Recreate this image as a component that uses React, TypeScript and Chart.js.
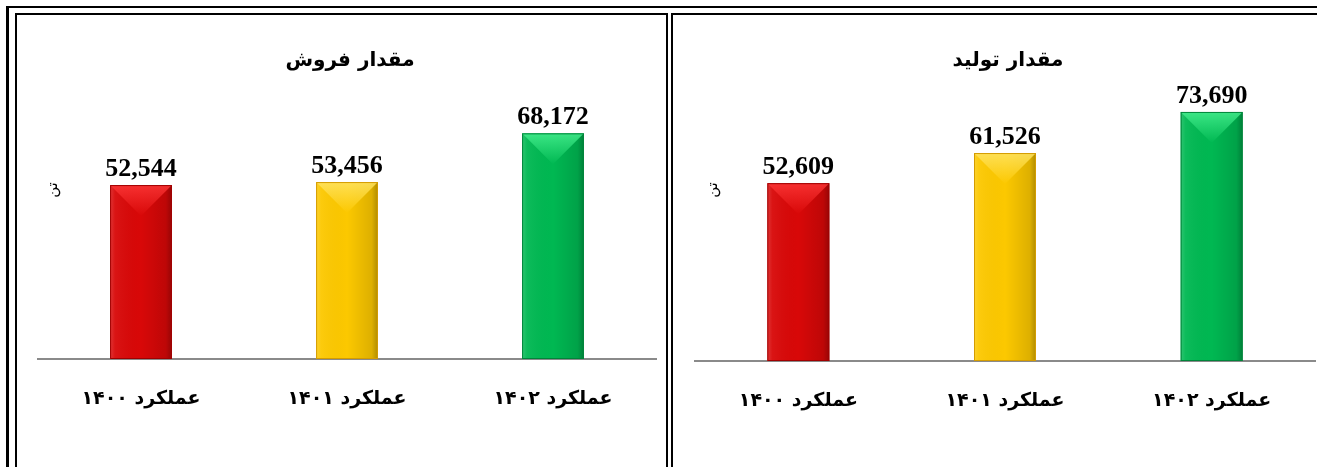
import React, { useEffect, useRef } from "react";
import { Chart, registerables } from "chart.js";

Chart.register(...registerables);

const categories = ["عملکرد ۱۴۰۰", "عملکرد ۱۴۰۱", "عملکرد ۱۴۰۲"];
const salesValues = [52544, 53456, 68172];
const productionValues = [52609, 61526, 73690];
const salesTitle = "مقدار فروش";
const productionTitle = "مقدار تولید";
const unitLabel = "تن";
const yMax = 100000;

const palettes = [
  { light: "#ff3a3a", mid: "#d80808", dark: "#a00000" },
  { light: "#ffe66a", mid: "#fcc800", dark: "#d49c00" },
  { light: "#4af292", mid: "#00b852", dark: "#00843a" },
];

const PERSIAN = "'DejaVu Sans', 'Noto Sans', sans-serif";

const bevelPlugin = {
  id: "bevelLabels",
  afterDatasetsDraw(chart: any) {
    const ctx = chart.ctx as CanvasRenderingContext2D;
    const meta = chart.getDatasetMeta(0);
    const data = chart.data.datasets[0].data as number[];
    meta.data.forEach((bar: any, i: number) => {
      const p = palettes[i % palettes.length];
      const { x, y, base, width } = bar.getProps(["x", "y", "base", "width"], true);
      const l = x - width / 2;
      const r = x + width / 2;
      const h = base - y;
      ctx.save();
      const g = ctx.createLinearGradient(l, 0, r, 0);
      g.addColorStop(0, "rgba(255,255,255,0.18)");
      g.addColorStop(0.08, "rgba(255,255,255,0.05)");
      g.addColorStop(0.5, "rgba(0,0,0,0)");
      g.addColorStop(0.9, "rgba(0,0,0,0.12)");
      g.addColorStop(1, "rgba(0,0,0,0.3)");
      ctx.fillStyle = g;
      ctx.fillRect(l, y, width, h);
      const depth = Math.min(width / 2, h);
      const tg = ctx.createLinearGradient(0, y, 0, y + depth);
      tg.addColorStop(0, p.light);
      tg.addColorStop(1, p.mid);
      ctx.beginPath();
      ctx.moveTo(l, y);
      ctx.lineTo(r, y);
      ctx.lineTo(x, y + depth);
      ctx.closePath();
      ctx.globalAlpha = 0.8;
      ctx.fillStyle = tg;
      ctx.fill();
      ctx.globalAlpha = 1;
      ctx.strokeStyle = p.dark;
      ctx.lineWidth = 1;
      ctx.strokeRect(l + 0.5, y + 0.5, width - 1, h - 1);
      ctx.fillStyle = "#000";
      ctx.font = "bold 26px 'Liberation Serif', 'Times New Roman', serif";
      ctx.textAlign = "center";
      ctx.textBaseline = "alphabetic";
      ctx.fillText(data[i].toLocaleString("en-US"), x, y - 9);
      ctx.restore();
    });
  },
};

type PanelProps = {
  values: number[];
  left: number;
  top: number;
  width: number;
  height: number;
  padLeft: number;
  padRight: number;
  padTop: number;
  axisHeight: number;
};

function BarPanel(props: PanelProps) {
  const ref = useRef<HTMLCanvasElement | null>(null);
  useEffect(() => {
    if (!ref.current) return;
    const chart = new Chart(ref.current, {
      type: "bar",
      data: {
        labels: categories,
        datasets: [
          {
            data: props.values,
            backgroundColor: palettes.map((p) => p.mid),
            borderWidth: 0,
            barPercentage: 0.3,
            categoryPercentage: 1,
          },
        ],
      },
      options: {
        animation: false,
        responsive: false,
        maintainAspectRatio: false,
        devicePixelRatio: 1,
        layout: {
          padding: { left: props.padLeft, right: props.padRight, top: props.padTop, bottom: 0 },
        },
        plugins: {
          legend: { display: false },
          title: { display: false },
          tooltip: { enabled: false },
        },
        scales: {
          x: {
            z: 1,
            grid: { display: false, drawTicks: false },
            border: { display: true, color: "#8a8a8a", width: 2 },
            ticks: {
              color: "#000",
              font: { family: PERSIAN, size: 19, weight: "bold" },
              padding: 29,
            },
            afterFit: (s: any) => {
              s.height = props.axisHeight;
            },
          },
          y: { display: false, min: 0, max: yMax },
        },
      } as any,
      plugins: [bevelPlugin],
    });
    return () => chart.destroy();
  }, []);
  return (
    <canvas
      ref={ref}
      width={props.width}
      height={props.height}
      style={{
        position: "absolute",
        left: props.left,
        top: props.top,
        width: props.width,
        height: props.height,
      }}
    />
  );
}

const titleStyle = (cx: number): React.CSSProperties => ({
  position: "absolute",
  left: cx - 150,
  top: 45,
  width: 300,
  textAlign: "center",
  fontFamily: PERSIAN,
  fontWeight: "bold",
  fontSize: 20,
  lineHeight: "28px",
  direction: "rtl",
  color: "#000",
});

const unitStyle = (cx: number): React.CSSProperties => ({
  position: "absolute",
  left: cx - 15,
  top: 180,
  width: 30,
  height: 20,
  lineHeight: "20px",
  textAlign: "center",
  fontFamily: PERSIAN,
  fontSize: 15,
  direction: "rtl",
  transform: "rotate(-90deg)",
  color: "#000",
});

export default function App() {
  return (
    <div
      style={{
        position: "absolute",
        left: 0,
        top: 0,
        width: 1317,
        height: 467,
        overflow: "hidden",
        background: "#fff",
      }}
    >
      <div
        style={{
          position: "absolute",
          left: 6,
          top: 6,
          width: 1400,
          height: 600,
          borderTop: "2px solid #000",
          borderLeft: "3px solid #000",
        }}
      />
      <div
        style={{
          position: "absolute",
          left: 15,
          top: 13,
          width: 649,
          height: 600,
          border: "2px solid #000",
        }}
      />
      <div
        style={{
          position: "absolute",
          left: 671,
          top: 13,
          width: 700,
          height: 600,
          border: "2px solid #000",
        }}
      />
      <BarPanel
        values={salesValues}
        left={20}
        top={20}
        width={642}
        height={440}
        padLeft={18}
        padRight={6}
        padTop={8}
        axisHeight={101}
      />
      <BarPanel
        values={productionValues}
        left={677}
        top={16}
        width={640}
        height={445}
        padLeft={18}
        padRight={2}
        padTop={7}
        axisHeight={100}
      />
      <div style={titleStyle(350)}>{salesTitle}</div>
      <div style={titleStyle(1008)}>{productionTitle}</div>
      <div style={unitStyle(52)}>{unitLabel}</div>
      <div style={unitStyle(712)}>{unitLabel}</div>
    </div>
  );
}
